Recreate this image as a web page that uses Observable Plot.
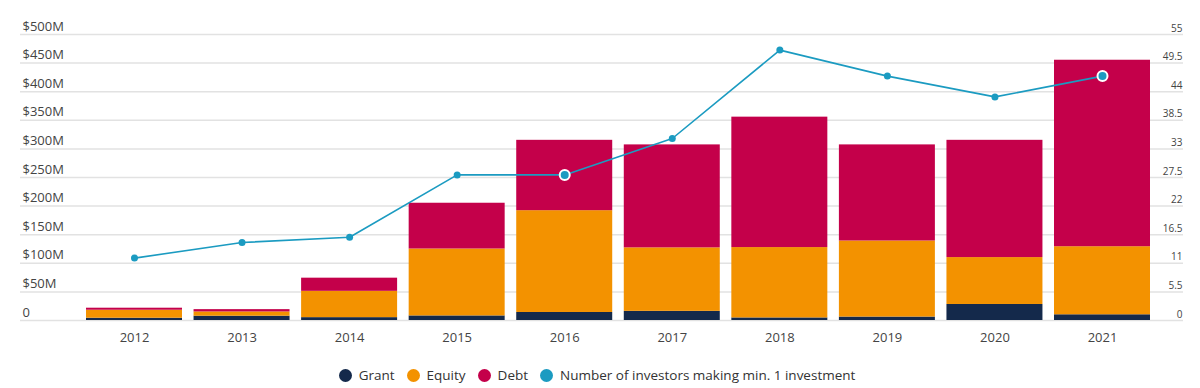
<!DOCTYPE html>
<html>
<head>
<meta charset="utf-8">
<script src="https://cdn.jsdelivr.net/npm/d3@7"></script>
<script src="https://cdn.jsdelivr.net/npm/@observablehq/plot@0.6"></script>
<style>
  html, body { margin: 0; padding: 0; background: #fff; }
  body { font-family: "Open Sans", sans-serif; width: 1200px; height: 388px; overflow: hidden; }
  #legend { display: flex; justify-content: center; align-items: center; height: 34px; font-size: 13.5px; color: #333; padding-left: 6px; }
  .item { display: flex; align-items: center; margin-right: 12px; }
  .sw { width: 13px; height: 13px; border-radius: 50%; margin-right: 7px; }
</style>
</head>
<body>
<div id="chart"></div>
<div id="legend"></div>
<script>
// ---- data ----
const years = ["2012", "2013", "2014", "2015", "2016", "2017", "2018", "2019", "2020", "2021"];
const grant = [4, 7.5, 5, 8, 14, 16, 4.5, 6, 28, 10];
const equity = [14, 7.5, 46, 117, 178, 111, 123, 133, 82, 119];
const debt = [3.5, 4, 23, 80, 123, 180, 228, 168, 205, 326];
const investors = [12, 15, 16, 28, 28, 35, 52, 47, 43, 47];
const highlightedYears = ["2016", "2021"];
const seriesNames = ["Grant", "Equity", "Debt"];
const lineName = "Number of investors making min. 1 investment";
const leftTicks = [0, 50, 100, 150, 200, 250, 300, 350, 400, 450, 500];
const rightTicks = [0, 5.5, 11, 16.5, 22, 27.5, 33, 38.5, 44, 49.5, 55];

// ---- styling ----
const seriesColors = ["#14294b", "#f39200", "#c4004a"];
const lineColor = "#1b9bc1";
const k = 500 / 55; // right axis -> left axis units

const table = years.flatMap((yr, i) => [
  {year: yr, type: "Grant", value: grant[i]},
  {year: yr, type: "Equity", value: equity[i]},
  {year: yr, type: "Debt", value: debt[i]}
]);
const lineData = years.map((yr, i) => ({year: yr, n: investors[i], hl: highlightedYears.includes(yr)}));

const chart = Plot.plot({
  width: 1200,
  height: 358,
  marginLeft: 86,
  marginRight: 50,
  marginTop: 34,
  marginBottom: 38,
  style: {fontFamily: "'Open Sans', sans-serif", color: "#444", background: "#fff"},
  x: {type: "band", domain: years, paddingInner: 0.1075, paddingOuter: 0, round: false, label: null},
  y: {domain: [0, 500], label: null},
  color: {domain: seriesNames, range: seriesColors},
  marks: [
    Plot.ruleY(leftTicks, {stroke: "#e2e2e2", strokeWidth: 1.5, insetLeft: -66, insetRight: -33}),
    Plot.barY(table, {x: "year", y: "value", fill: "type", order: seriesNames}),
    Plot.axisY(leftTicks, {
      anchor: "left", tickSize: 0, tickPadding: 0, textAnchor: "start", lineAnchor: "bottom",
      dx: -64, dy: -4, fontSize: 13, label: null,
      tickFormat: d => d === 0 ? "0" : `$${d}M`
    }),
    Plot.axisY(rightTicks.map(v => v * k), {
      anchor: "right", tickSize: 0, tickPadding: 0, textAnchor: "end", lineAnchor: "bottom",
      dx: 32, dy: -3, fontSize: 10, label: null,
      tickFormat: d => String(Math.round(d / k * 10) / 10)
    }),
    Plot.axisX({tickSize: 0, tickPadding: 12, fontSize: 13, label: null}),
    Plot.line(lineData, {x: "year", y: d => d.n * k, stroke: lineColor, strokeWidth: 1.6}),
    Plot.dot(lineData.filter(d => !d.hl), {x: "year", y: d => d.n * k, r: 3.5, fill: lineColor}),
    Plot.dot(lineData.filter(d => d.hl), {x: "year", y: d => d.n * k, r: 5, fill: lineColor, stroke: "#fff", strokeWidth: 2})
  ]
});
document.getElementById("chart").appendChild(chart);

// ---- legend ----
const legend = document.getElementById("legend");
[...seriesNames.map((s, i) => [s, seriesColors[i]]), [lineName, lineColor]].forEach(([name, c]) => {
  const it = document.createElement("div");
  it.className = "item";
  const sw = document.createElement("span");
  sw.className = "sw";
  sw.style.background = c;
  const t = document.createElement("span");
  t.textContent = name;
  it.appendChild(sw);
  it.appendChild(t);
  legend.appendChild(it);
});
</script>
</body>
</html>
